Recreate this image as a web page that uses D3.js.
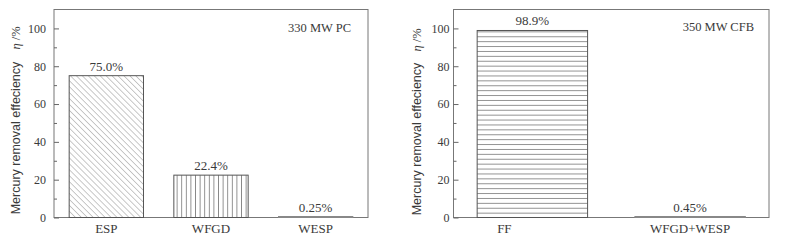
<!DOCTYPE html>
<html>
<head>
<meta charset="utf-8">
<script src="https://cdn.jsdelivr.net/npm/d3@7"></script>
<style>
  body { margin: 0; background: #fff; }
  svg { display: block; }
</style>
</head>
<body>
<div id="chart"></div>
<script>
// data
const pcUnits = ["ESP", "WFGD", "WESP"];
const pcValues = [75.0, 22.4, 0.25];
const pcLabels = ["75.0%", "22.4%", "0.25%"];
const pcPatterns = ["diag", "vert", "none"];

const cfbUnits = ["FF", "WFGD+WESP"];
const cfbValues = [98.9, 0.45];
const cfbLabels = ["98.9%", "0.45%"];
const cfbPatterns = ["horiz", "none"];

const yTicks = [0, 20, 40, 60, 80, 100];
const yMinorTicks = [10, 30, 50, 70, 90];

const width = 804, height = 243;
const serif = "'Liberation Serif', 'Times New Roman', serif";
const sans = "'Liberation Sans', Arial, sans-serif";
const ink = "#3a3a3a";

const svg = d3.select("#chart").append("svg")
    .attr("width", width)
    .attr("height", height);

// hatch patterns
const defs = svg.append("defs");
function addPattern(id, size, path, rotate) {
    const p = defs.append("pattern")
        .attr("id", id)
        .attr("patternUnits", "userSpaceOnUse")
        .attr("width", size)
        .attr("height", size);
    if (rotate) p.attr("patternTransform", `rotate(${rotate})`);
    p.append("rect").attr("width", size).attr("height", size).attr("fill", "#fff");
    p.append("path").attr("d", path)
        .attr("stroke", "#777")
        .attr("stroke-width", 0.8)
        .attr("fill", "none");
}
addPattern("diag", 4.2, "M0,0 L0,4.2", -45);
addPattern("vert", 4.6, "M2.3,0 L2.3,4.6");
addPattern("horiz", 4.9, "M0,2.45 L4.9,2.45");

function drawPanel(opt) {
    const { x0, x1, y0, y1, units, values, labels, patterns, note, noteX, noteY,
            labelX, labelY, etaY, tickPad, padding, catShift } = opt;

    const x = d3.scaleBand().domain(units).range([x0, x1]).paddingInner(padding).paddingOuter(padding / 2);
    const y = d3.scaleLinear().domain([0, 110]).range([y1, y0]);
    const g = svg.append("g");

    // frame
    g.append("rect")
        .attr("x", x0).attr("y", y0)
        .attr("width", x1 - x0).attr("height", y1 - y0)
        .attr("fill", "none")
        .attr("stroke", "#777")
        .attr("stroke-width", 1);

    // bars
    g.selectAll(".bar")
        .data(units)
        .join("rect")
        .attr("class", "bar")
        .attr("x", d => x(d))
        .attr("y", (d, i) => Math.min(y(values[i]), y1 - 1))
        .attr("width", x.bandwidth())
        .attr("height", (d, i) => Math.max(y1 - y(values[i]), 1))
        .attr("fill", (d, i) => patterns[i] === "none" ? "#888" : `url(#${patterns[i]})`)
        .attr("stroke", (d, i) => patterns[i] === "none" ? "#888" : "#555")
        .attr("stroke-width", 1);

    // value labels
    g.selectAll(".val")
        .data(units)
        .join("text")
        .attr("class", "val")
        .attr("x", d => x(d) + x.bandwidth() / 2)
        .attr("y", (d, i) => y(values[i]) - 5)
        .attr("text-anchor", "middle")
        .attr("font-family", serif)
        .attr("font-size", "13px")
        .attr("fill", ink)
        .text((d, i) => labels[i]);

    // y axis, ticks inward
    const yAxis = d3.axisLeft(y).tickValues(yTicks).tickSize(-5).tickPadding(tickPad);
    const ay = g.append("g").attr("transform", `translate(${x0},0)`).call(yAxis);
    ay.select(".domain").remove();
    ay.selectAll("line").attr("stroke", "#666");
    ay.selectAll("text").attr("font-family", serif).attr("font-size", "12px").attr("fill", ink);

    const yMinor = d3.axisLeft(y).tickValues(yMinorTicks).tickSize(-3).tickFormat("");
    const am = g.append("g").attr("transform", `translate(${x0},0)`).call(yMinor);
    am.select(".domain").remove();
    am.selectAll("line").attr("stroke", "#666");

    // x axis categories
    const xAxis = d3.axisBottom(x).tickSize(0).tickPadding(6);
    const ax = g.append("g").attr("transform", `translate(0,${y1})`).call(xAxis);
    ax.select(".domain").remove();
    ax.selectAll("text")
        .attr("font-family", serif)
        .attr("font-size", "13px")
        .attr("fill", ink)
        .attr("dx", (d, i) => catShift[i] || 0);

    // note
    g.append("text")
        .attr("x", noteX).attr("y", noteY)
        .attr("text-anchor", "end")
        .attr("font-family", serif)
        .attr("font-size", "12.5px")
        .attr("fill", ink)
        .text(note);

    // y label
    g.append("text")
        .attr("transform", `translate(${labelX},${labelY}) rotate(-90)`)
        .attr("text-anchor", "middle")
        .attr("font-family", sans)
        .attr("font-size", "12.5px")
        .attr("fill", ink)
        .text("Mercury removal effeciency");
    const eta = g.append("text")
        .attr("transform", `translate(${labelX},${etaY}) rotate(-90)`)
        .attr("text-anchor", "middle")
        .attr("font-family", serif)
        .attr("font-size", "12.5px")
        .attr("fill", ink);
    eta.append("tspan").attr("font-style", "italic").text("\u03b7");
    eta.append("tspan").text(" /%");
}

drawPanel({
    x0: 54, x1: 368, y0: 9.5, y1: 217.5,
    units: pcUnits, values: pcValues, labels: pcLabels, patterns: pcPatterns,
    note: "330 MW PC", noteX: 351, noteY: 32,
    labelX: 20, labelY: 138, etaY: 38, tickPad: 8, padding: 0.29, catShift: []
});

drawPanel({
    x0: 453.5, x1: 769, y0: 9.5, y1: 217.5,
    units: cfbUnits, values: cfbValues, labels: cfbLabels, patterns: cfbPatterns,
    note: "350 MW CFB", noteX: 754, noteY: 31,
    labelX: 421, labelY: 139, etaY: 40, tickPad: 4, padding: 0.30, catShift: [-28, 0]
});
</script>
</body>
</html>
